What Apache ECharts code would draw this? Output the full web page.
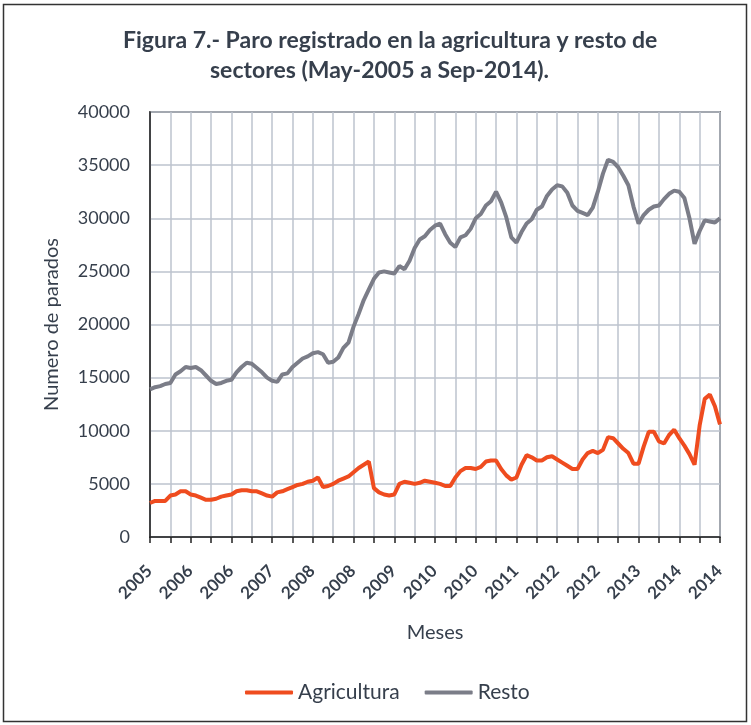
<!DOCTYPE html>
<html>
<head>
<meta charset="utf-8">
<script src="https://cdn.jsdelivr.net/npm/echarts@6/dist/echarts.min.js"></script>
<style>
html,body{margin:0;padding:0;background:#fff;}
#c{width:751px;height:725px;}
</style>
</head>
<body>
<div id="c"></div>
<script>
// Monthly categories May-2005 .. Sep-2014 (label = year)
var startYear = 2005, startMonth = 5, nMonths = 113;
var months = [];
for (var k = 0; k < nMonths; k++) {
  var m = startMonth - 1 + k;
  months.push(String(startYear + Math.floor(m / 12)));
}

var agricultura = [
  3200,3400,3400,3400,3900,4000,4300,4300,4000,3900,3700,3500,3500,3600,3800,3900,
  4000,4300,4400,4400,4300,4300,4100,3900,3800,4200,4300,4500,4700,4900,5000,5200,
  5300,5600,4700,4800,5000,5300,5500,5700,6100,6500,6800,7100,4600,4200,4000,3900,
  4000,5000,5200,5100,5000,5100,5300,5200,5100,5000,4800,4800,5600,6200,6500,6500,
  6400,6600,7100,7200,7200,6400,5800,5400,5600,6800,7700,7500,7200,7200,7500,7600,
  7300,7000,6700,6400,6400,7300,7900,8100,7900,8200,9400,9300,8800,8300,7900,6900,
  6900,8500,9900,9900,9000,8800,9600,10100,9300,8600,7800,6800,10500,13000,13400,12300,
  10600
];

var resto = [
  13900,14100,14200,14400,14500,15300,15600,16000,15900,16000,15700,15200,14700,14400,14500,14700,
  14800,15500,16000,16400,16300,15900,15500,15000,14700,14600,15300,15400,16000,16400,16800,17000,
  17300,17400,17200,16400,16500,16900,17800,18300,19800,21000,22300,23300,24300,24900,25000,24900,
  24800,25500,25200,26000,27200,28000,28300,28900,29300,29500,28500,27700,27300,28200,28400,29000,
  30000,30400,31200,31600,32500,31500,30100,28200,27700,28700,29500,29900,30800,31100,32100,32700,
  33100,33000,32400,31200,30700,30500,30300,31000,32500,34200,35500,35300,34800,34000,33100,31100,
  29500,30300,30800,31100,31200,31800,32300,32600,32500,31900,30000,27600,28800,29800,29700,29600,
  30000
];

var yTicks = { min: 0, max: 40000, interval: 5000 };

var FONT = 'Lato';
var TXT = '#363f4c';

var chart = echarts.init(document.getElementById('c'), null, { renderer: 'canvas' });
chart.setOption({
  animation: false,
  backgroundColor: '#fff',
  textStyle: { fontFamily: FONT, color: TXT },
  title: [{
    text: 'Figura 7.- Paro registrado en la agricultura y resto de',
    left: 123,
    top: 29,
    padding: 0,
    textStyle: { fontFamily: FONT, fontSize: 23, fontWeight: 'bold', color: TXT }
  }, {
    text: 'sectores (May-2005 a Sep-2014).',
    left: 210,
    top: 59,
    padding: 0,
    textStyle: { fontFamily: FONT, fontSize: 23, fontWeight: 'bold', color: TXT }
  }],
  graphic: [{
    type: 'rect',
    shape: { x: 3.5, y: 4.5, width: 743, height: 717 },
    style: { fill: 'none', stroke: '#333', lineWidth: 1.5 },
    silent: true
  }],
  legend: {
    bottom: 17,
    left: 240,
    itemWidth: 48,
    itemHeight: 4,
    itemGap: 25,
    icon: 'roundRect',
    textStyle: { fontFamily: FONT, fontSize: 21, color: TXT },
    data: ['Agricultura', 'Resto']
  },
  grid: {
    left: 150, right: 31, top: 112, bottom: 188,
    show: true, borderColor: '#222', borderWidth: 1.5, backgroundColor: 'transparent'
  },
  xAxis: {
    type: 'category',
    data: months,
    boundaryGap: false,
    name: 'Meses',
    nameLocation: 'middle',
    nameGap: 86,
    nameTextStyle: { fontFamily: FONT, fontSize: 20, color: TXT },
    axisLine: { lineStyle: { color: '#222', width: 1.5 } },
    axisTick: { show: true, interval: 3, length: 6, lineStyle: { color: '#222', width: 1.5 } },
    axisLabel: { interval: 7, rotate: 45, fontFamily: FONT, fontSize: 17, color: TXT, margin: 22,
      verticalAlign: 'top', lineHeight: 12, fontWeight: 'bold', hideOverlap: false,
      formatter: function (v) { return '{y|' + v + '}'; },
      rich: { y: { fontFamily: FONT, fontSize: 17, fontWeight: 'bold', color: TXT, lineHeight: 12, padding: [0, 7, 0, 0] } } },
    splitLine: { show: true, interval: 3, lineStyle: { color: '#bcc3ce', width: 1.5 } }
  },
  yAxis: {
    type: 'value',
    min: yTicks.min, max: yTicks.max, interval: yTicks.interval,
    name: 'Numero de parados',
    nameLocation: 'middle',
    nameGap: 88,
    nameTextStyle: { fontFamily: FONT, fontSize: 20, color: TXT },
    axisLine: { show: true, lineStyle: { color: '#222', width: 1.5 } },
    axisTick: { show: false },
    axisLabel: { fontFamily: FONT, fontSize: 18, color: TXT, margin: 20, formatter: function (v) { return String(v); } },
    splitLine: { show: true, lineStyle: { color: '#bcc3ce', width: 1.5 } }
  },
  series: [
    { name: 'Agricultura', type: 'line', data: agricultura, symbol: 'none',
      lineStyle: { color: '#ef4c1f', width: 4 }, itemStyle: { color: '#ef4c1f' } },
    { name: 'Resto', type: 'line', data: resto, symbol: 'none',
      lineStyle: { color: '#7b7d88', width: 4 }, itemStyle: { color: '#7b7d88' } }
  ]
});
</script>
</body>
</html>
